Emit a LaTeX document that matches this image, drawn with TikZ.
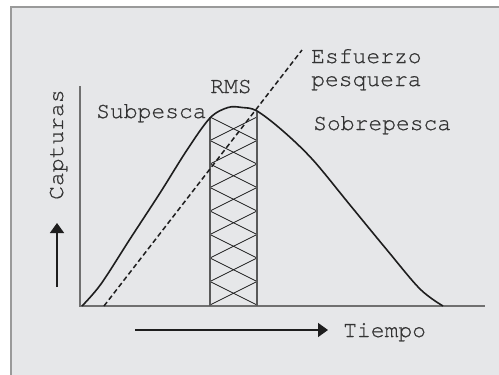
\documentclass[tikz,border=0pt]{standalone}
\usepackage{fontspec}
\setmonofont{TeX Gyre Cursor}[FakeBold=0.6]
\usetikzlibrary{arrows.meta}
\definecolor{bgfill}{HTML}{E6E7E9}
\definecolor{framec}{HTML}{9A9A9A}
\definecolor{axisc}{HTML}{707070}
\definecolor{inkc}{HTML}{1E1E1E}
\definecolor{txtc}{HTML}{333333}
\begin{document}
\begin{tikzpicture}[x=1pt,y=-1pt,
  lbl/.style={font=\ttfamily\fontsize{23}{26}\selectfont, text=txtc, inner sep=0pt},
  axis/.style={draw=axisc, line width=1.3pt},
  curve/.style={draw=inkc, line width=1.6pt, line join=round},
  effort/.style={draw=inkc, line width=1.5pt, dash pattern=on 5pt off 3pt},
  hatch/.style={draw=inkc, line width=0.7pt},
  bar/.style={draw=black!65, line width=1.2pt},
  arr/.style={draw=inkc, line width=1.6pt, -{Triangle[length=10pt,width=14pt]}}]
\useasboundingbox (0,0) rectangle (499,375);
\fill[bgfill] (11,7) rectangle (499,375);
\draw[framec, line width=2pt] (11,375) -- (11,7) -- (499,7);

% axes
\coordinate (ytop) at (80,86);
\coordinate (orig) at (80,306);
\coordinate (xend) at (485,306);
\draw[axis] (ytop) -- (orig) -- (xend);

% hatched MSY band
\foreach \k in {0,...,7} {
  \draw[hatch] (210,{117+23.5*\k}) -- (257,{117+23.5*(\k+1)});
  \draw[hatch] (257,{117+23.5*\k}) -- (210,{117+23.5*(\k+1)});
}
\draw[bar] (210,117) -- (210,306);
\draw[bar] (257,112) -- (257,306);

% catch curve
\draw[curve] plot[smooth, tension=0.55] coordinates {
  (82,306) (101,284) (130,239) (160,193) (187,150) (210,118) (228,107.5)
  (242,107.5) (257,111) (283,131) (313,160) (350,205) (387,250) (420,289) (443,306)};

% fishing effort
\coordinate (e0) at (104,306);
\coordinate (e1) at (302,50);
\draw[effort] (e0) -- (e1);

% labels
\node[lbl, anchor=base west] (esf) at (311,63) {Esfuerzo};
\node[lbl, anchor=base west] (pesq) at (311,86) {pesquera};
\node[lbl, anchor=base] (rms) at (231,93) {RMS};
\node[lbl, anchor=base west] (sub) at (96,118) {Subpesca};
\node[lbl, anchor=base west] (sobre) at (313,130) {Sobrepesca};
\node[lbl, anchor=base west] (tiempo) at (343,337) {Tiempo};
\node[lbl, anchor=base west, rotate=90] (capt) at (63,200) {Capturas};

% arrows
\coordinate (va0) at (57,287);
\coordinate (va1) at (57,223);
\draw[arr] (va0) -- (va1);
\coordinate (ha0) at (135,330);
\coordinate (ha1) at (328,330);
\draw[arr] (ha0) -- (ha1);
\end{tikzpicture}
\end{document}
